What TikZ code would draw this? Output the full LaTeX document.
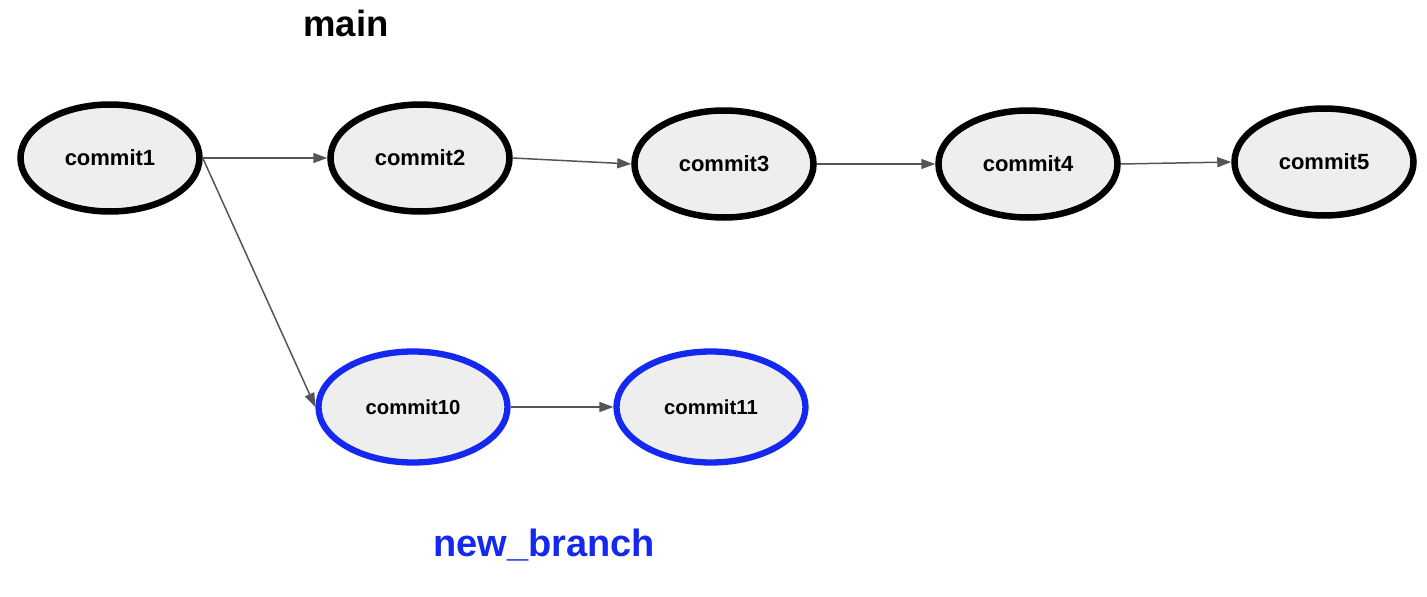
\documentclass[tikz,border=0pt]{standalone}
\usepackage{fontspec}
\setmainfont{Liberation Sans}
\usetikzlibrary{shapes.geometric,arrows.meta}
\definecolor{nodefill}{HTML}{EEEEEE}
\definecolor{branchblue}{RGB}{20,40,240}
\definecolor{edgegray}{HTML}{555555}
\tikzset{
  commit/.style={ellipse,draw=black,line width=6.5pt,fill=nodefill,minimum width=179pt,minimum height=107pt,inner sep=0pt,font=\fontsize{22}{26}\selectfont\bfseries},
  bcommit/.style={commit,draw=branchblue,line width=6.3pt,minimum width=189pt,minimum height=111pt,font=\fontsize{20.3}{24}\selectfont\bfseries},
  edge/.style={draw=edgegray,line width=1.5pt,-{Triangle[length=14pt,width=10pt]}}
}
\begin{document}
\begin{tikzpicture}[x=1pt,y=-1pt]
\useasboundingbox (0,0) rectangle (1427,597);
\node[commit] (c1) at (110,158) {commit1};
\node[commit] (c2) at (420,158) {commit2};
\node[commit] (c3) at (724,164) {commit3};
\node[commit] (c4) at (1028,164) {commit4};
\node[commit] (c5) at (1324,162) {commit5};
\node[bcommit] (c10) at (413,407) {commit10};
\node[bcommit] (c11) at (711,407) {commit11};
\node[font=\fontsize{36.5}{42}\selectfont\bfseries] (main) at (346,23) {main};
\node[font=\fontsize{38}{44}\selectfont\bfseries,text=branchblue] (nb) at (544,545) {new\_branch};
\draw[edge] (c1.east) -- (c2.west);
\draw[edge] (c1.east) -- (c10.west);
\draw[edge] (c2.east) -- (c3.west);
\draw[edge] (c3.east) -- (c4.west);
\draw[edge] (c4.east) -- (c5.west);
\draw[edge] (c10.east) -- (c11.west);
\end{tikzpicture}
\end{document}
